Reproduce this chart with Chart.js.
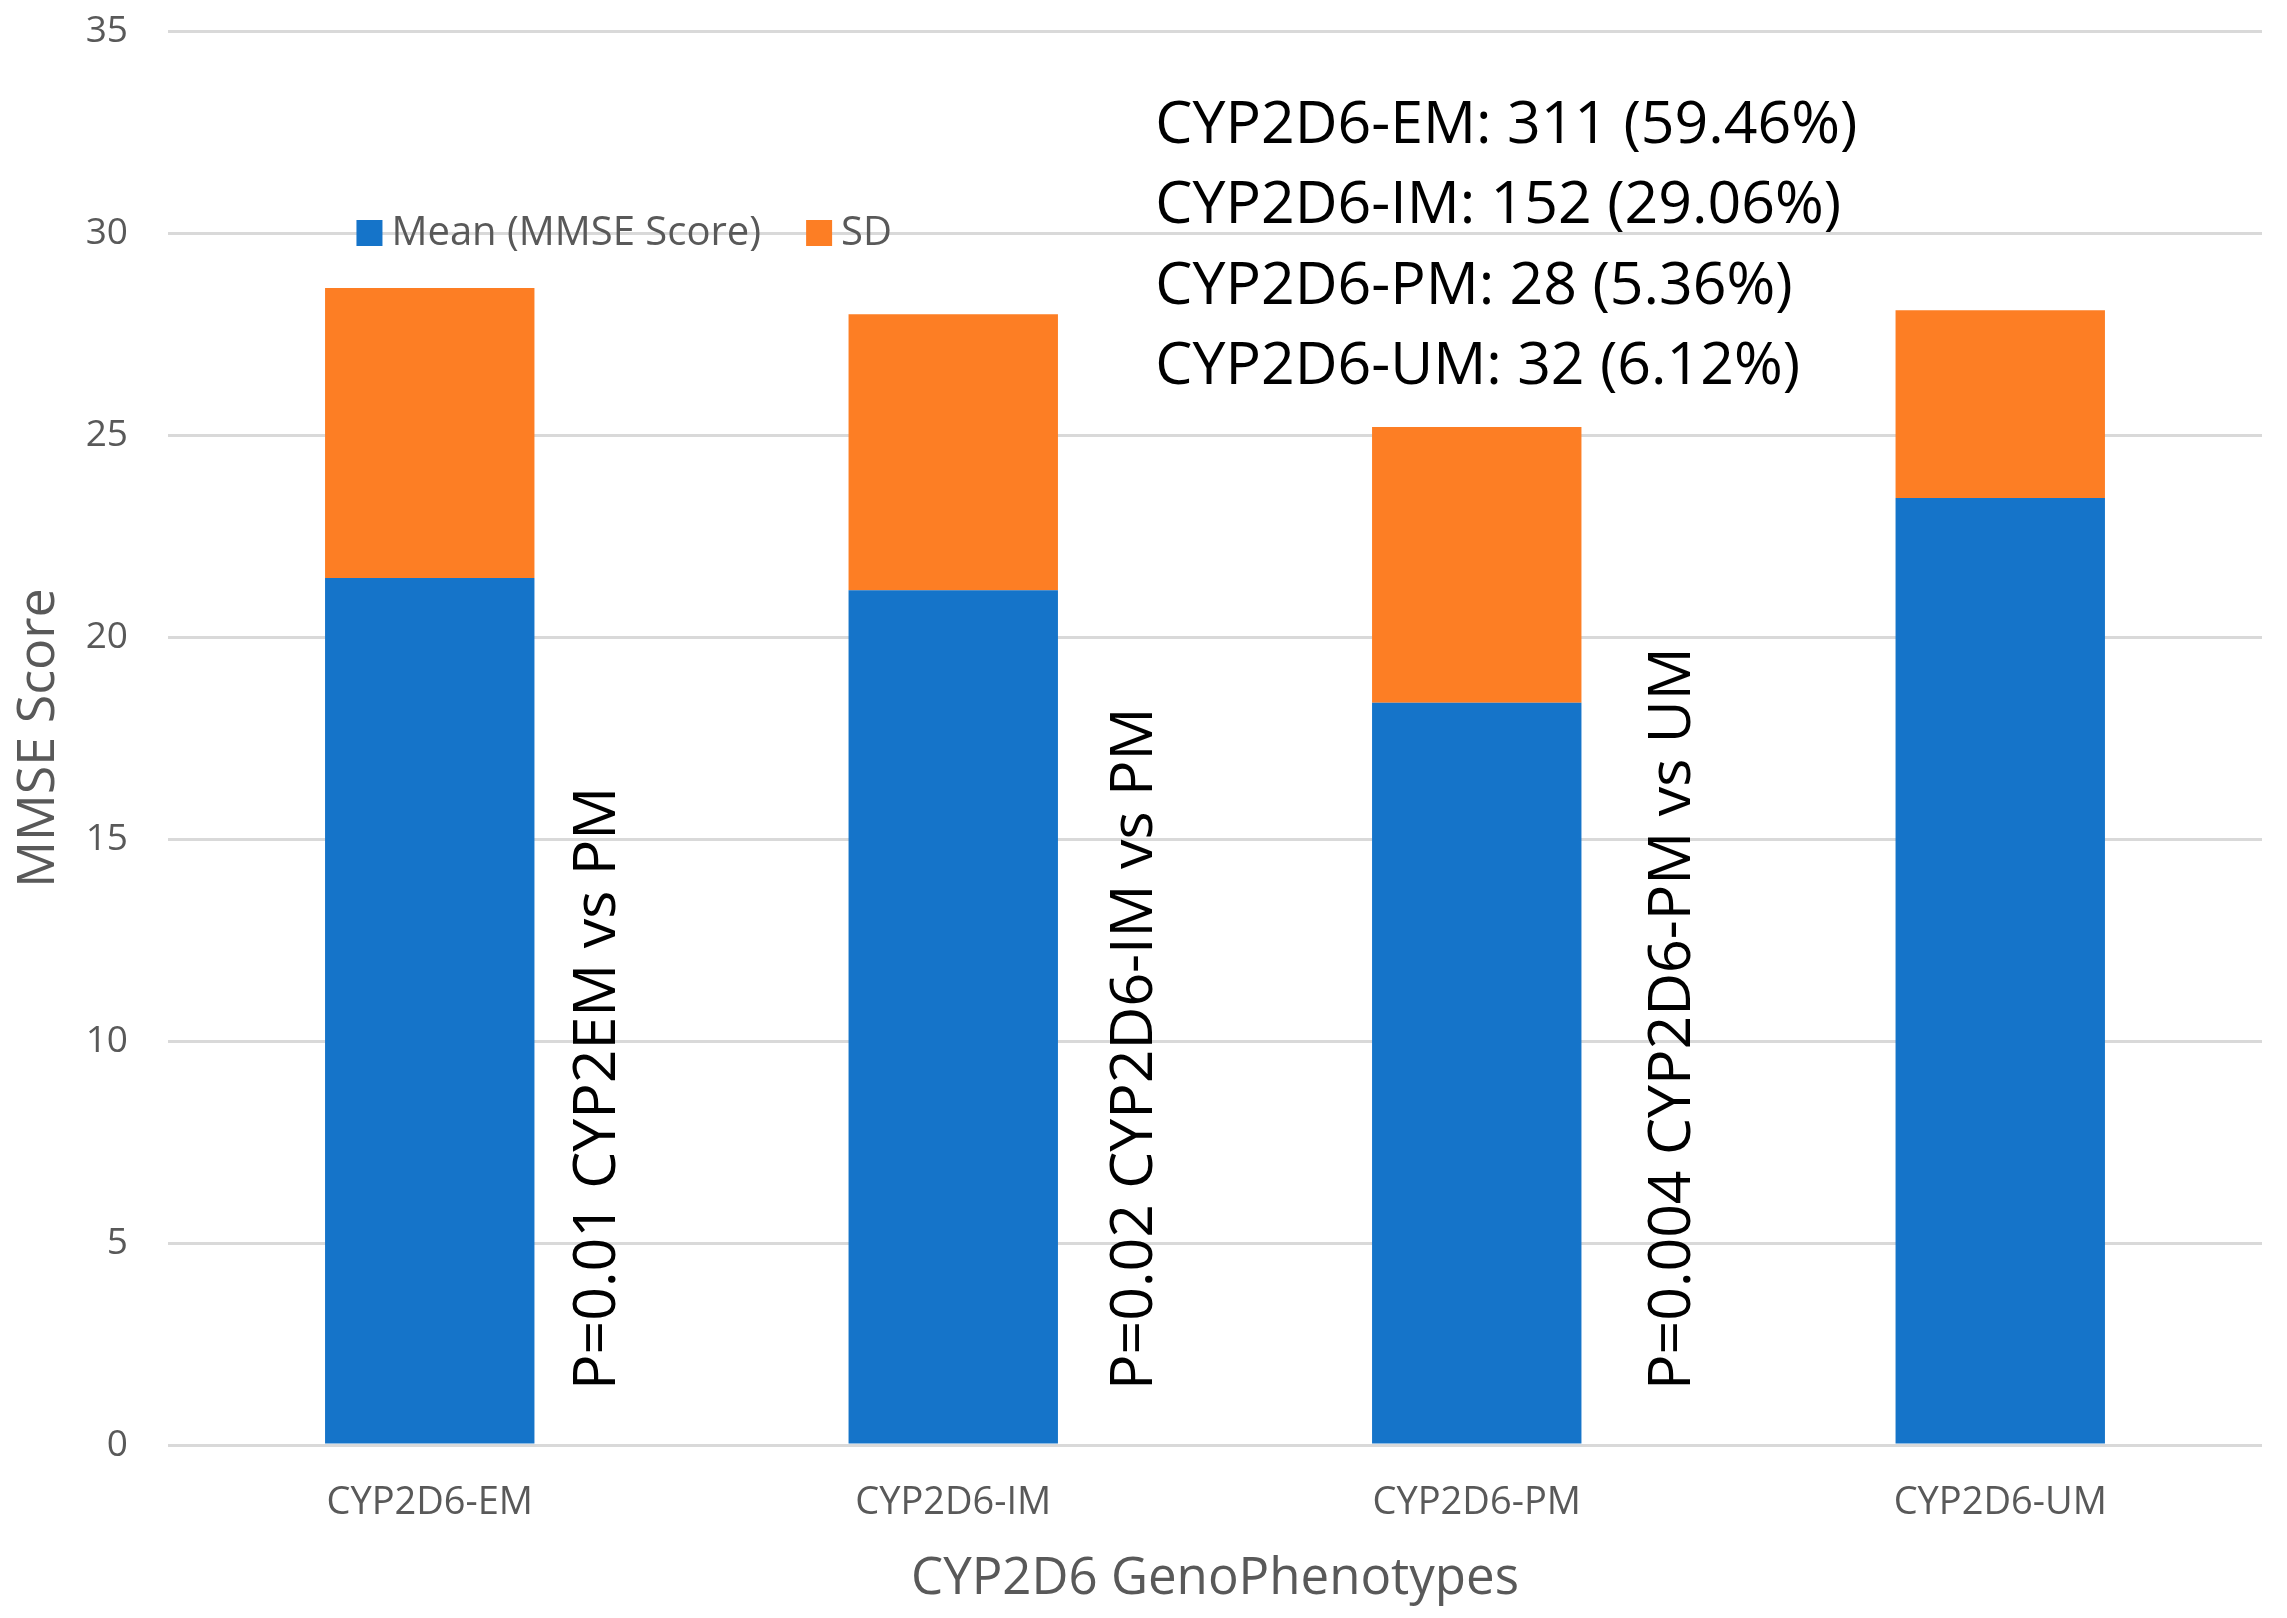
<!DOCTYPE html>
<html>
<head>
<meta charset="utf-8">
<script src="https://cdn.jsdelivr.net/npm/chart.js@4.4.1/dist/chart.umd.min.js"></script>
<style>
  html, body { margin: 0; padding: 0; background: #fff; }
  #wrap { width: 2287px; height: 1618px; position: relative; }
</style>
</head>
<body>
<div id="wrap"><canvas id="chart"></canvas></div>
<script>
// values
const genotypes = ["CYP2D6-EM", "CYP2D6-IM", "CYP2D6-PM", "CYP2D6-UM"];
const meanScore = [21.46, 21.16, 18.37, 23.44];
const sdScore = [7.18, 6.83, 6.83, 4.65];
const yTicks = [0, 5, 10, 15, 20, 25, 30, 35];

const countNotes = [
    "CYP2D6-EM: 311 (59.46%)",
    "CYP2D6-IM: 152 (29.06%)",
    "CYP2D6-PM: 28 (5.36%)",
    "CYP2D6-UM: 32 (6.12%)"
];
const pNotes = [
    "P=0.01 CYP2EM vs PM",
    "P=0.02 CYP2D6-IM vs PM",
    "P=0.004 CYP2D6-PM vs UM"
];

const BLUE = "#1574c9";
const ORANGE = "#fd7e24";
const GREY = "#595959";
const FONT = "'Open Sans', 'Noto Sans', sans-serif";

// legend + text notes drawn on top of the bars
const notesPlugin = {
    id: "notes",
    afterDatasetsDraw(chart) {
        const ctx = chart.ctx;
        const x = chart.scales.x;
        const y = chart.scales.y;
        ctx.save();

        // legend, sitting on the 30 gridline
        const ly = y.getPixelForValue(30);
        let lx = x.getPixelForValue(-0.14);
        ctx.font = "40px " + FONT;
        ctx.textBaseline = "middle";
        ctx.textAlign = "left";
        chart.data.datasets.forEach((ds) => {
            ctx.fillStyle = ds.backgroundColor;
            ctx.fillRect(lx, ly - 13, 26, 26);
            lx += 35;
            ctx.fillStyle = GREY;
            ctx.fillText(ds.label, lx, ly + 1);
            lx += ctx.measureText(ds.label).width + 45;
        });

        // counts block
        ctx.font = "59px " + FONT;
        ctx.fillStyle = "#000";
        const cx = x.getPixelForValue(1.386);
        let cy = y.getPixelForValue(32.65);
        countNotes.forEach((t) => {
            ctx.fillText(t, cx, cy);
            cy += 80.5;
        });

        // rotated p-values
        const pPos = [0.321, 1.347, 2.375];
        pNotes.forEach((t, i) => {
            ctx.save();
            ctx.translate(x.getPixelForValue(pPos[i]), y.getPixelForValue(1.36));
            ctx.rotate(-Math.PI / 2);
            ctx.fillText(t, 0, 0);
            ctx.restore();
        });
        ctx.restore();
    }
};

new Chart(document.getElementById("chart"), {
    type: "bar",
    data: {
        labels: genotypes,
        datasets: [
            { label: "Mean (MMSE Score)", data: meanScore, backgroundColor: BLUE, borderWidth: 0 },
            { label: "SD", data: sdScore, backgroundColor: ORANGE, borderWidth: 0 }
        ]
    },
    options: {
        responsive: true,
        maintainAspectRatio: false,
        animation: false,
        layout: { padding: { left: 0, right: 25, top: 31, bottom: 0 } },
        plugins: {
            legend: { display: false },
            tooltip: { enabled: false }
        },
        datasets: { bar: { barPercentage: 0.4, categoryPercentage: 1 } },
        scales: {
            x: {
                stacked: true,
                grid: { display: false },
                border: { display: false },
                ticks: { color: GREY, font: { family: FONT, size: 38 }, padding: 27 },
                title: {
                    display: true, text: "CYP2D6 GenoPhenotypes", color: GREY,
                    font: { family: FONT, size: 51 }, padding: { top: 0, bottom: 8 }
                },
                afterFit(s) { s.height = 173; }
            },
            y: {
                stacked: true,
                min: 0,
                max: 35,
                afterBuildTicks(s) { s.ticks = yTicks.map(v => ({ value: v })); },
                grid: { color: "#d9d9d9", lineWidth: 3, drawTicks: false },
                border: { display: false },
                ticks: { color: GREY, font: { family: FONT, size: 37 }, padding: 40 },
                title: {
                    display: true, text: "MMSE Score", color: GREY,
                    font: { family: FONT, size: 52 }, padding: { top: 8, bottom: 0 }
                },
                afterFit(s) {
                    s.width = 168;
                    s.paddingTop = 0;
                    s.paddingBottom = 0;
                }
            }
        }
    },
    plugins: [notesPlugin]
});
</script>
</body>
</html>
